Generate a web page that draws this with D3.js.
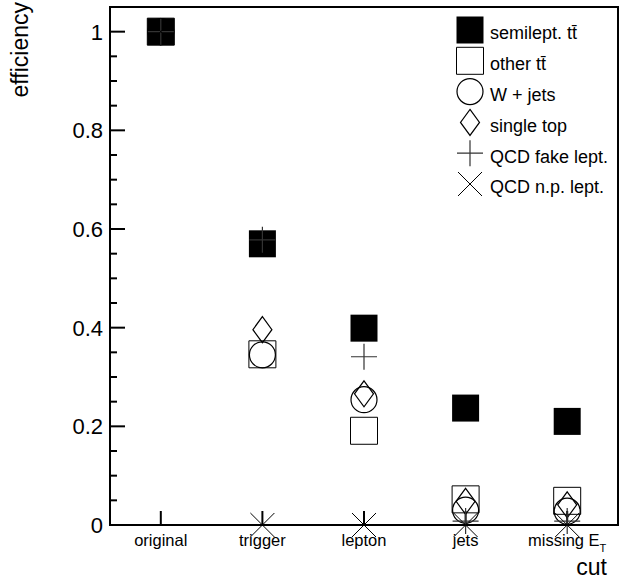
<!DOCTYPE html>
<html>
<head>
<meta charset="utf-8">
<script src="https://cdn.jsdelivr.net/npm/d3@7"></script>
<style>
  html, body { margin: 0; padding: 0; background: #fff; }
  svg { display: block; font-family: "Liberation Sans", Arial, sans-serif; }
</style>
</head>
<body>
<svg id="chart" width="621" height="579"></svg>
<script>
// Selection stages
const categories = ["original", "trigger", "lepton", "jets", "missing E_T"];

// Efficiency after each cut, per sample
const semileptTT = [1.0, 0.570, 0.399, 0.237, 0.210];
const otherTT    = [1.0, 0.346, 0.191, 0.052, 0.049];
const wJets      = [1.0, 0.345, 0.254, 0.030, 0.028];
const singleTop  = [1.0, 0.396, 0.266, 0.048, 0.041];
const qcdFake    = [1.0, 0.578, 0.341, 0.008, 0.008];
const qcdNP      = [1.0, 0.0, 0.0, 0.0, 0.0];

const yMajorTicks = [0, 0.2, 0.4, 0.6, 0.8, 1];
const yTickLabels = ["0", "0.2", "0.4", "0.6", "0.8", "1"];

const series = [
  { name: "semilept. t", bar: true,  values: semileptTT, marker: "fullSquare" },
  { name: "other t",     bar: true,  values: otherTT,    marker: "openSquare" },
  { name: "W + jets",    bar: false, values: wJets,      marker: "openCircle" },
  { name: "single top",  bar: false, values: singleTop,  marker: "openDiamond" },
  { name: "QCD fake lept.", bar: false, values: qcdFake, marker: "plus" },
  { name: "QCD n.p. lept.", bar: false, values: qcdNP,   marker: "cross" }
];

const svg = d3.select("#chart");
const frame = { left: 110, right: 618, top: 7, bottom: 525 };

const x = d3.scaleBand().domain(categories).range([frame.left, frame.right]).padding(0);
const y = d3.scaleLinear().domain([0, 1.05]).range([frame.bottom, frame.top]);

// Marker shapes (paths centered at 0,0)
const markerPath = {
  fullSquare:  () => "M-13.5,-13.5H13.5V13.5H-13.5Z",
  openSquare:  () => "M-13.5,-13.5H13.5V13.5H-13.5Z",
  openCircle:  () => d3.symbol(d3.symbolCircle, Math.PI * 13 * 13)(),
  openDiamond: () => "M0,-13L9.5,0L0,13L-9.5,0Z",
  plus:        () => "M-13,0H13M0,-13V13",
  cross:       () => "M-12,-12L12,12M12,-12L-12,12"
};
const markerStyle = {
  fullSquare:  { fill: "#000", stroke: "none", sw: 0 },
  openSquare:  { fill: "none", stroke: "#000", sw: 1 },
  openCircle:  { fill: "none", stroke: "#000", sw: 1.2 },
  openDiamond: { fill: "none", stroke: "#000", sw: 1.2 },
  plus:        { fill: "none", stroke: "#333", sw: 1.2 },
  cross:       { fill: "none", stroke: "#000", sw: 1 }
};

function drawMarker(g, type, cx, cy) {
  const st = markerStyle[type];
  g.append("path")
    .attr("d", markerPath[type]())
    .attr("transform", `translate(${cx},${cy})`)
    .attr("fill", st.fill)
    .attr("stroke", st.stroke)
    .attr("stroke-width", st.sw);
}

// Frame
svg.append("rect")
  .attr("x", frame.left).attr("y", frame.top)
  .attr("width", frame.right - frame.left).attr("height", frame.bottom - frame.top)
  .attr("fill", "none").attr("stroke", "#000").attr("stroke-width", 2);

// Y axis ticks (inside the frame)
const yAxis = svg.append("g");
const minorTicks = d3.range(0, 21).map(i => i * 0.05).filter(v => !yMajorTicks.some(m => Math.abs(m - v) < 1e-9));
yAxis.selectAll("line.minor").data(minorTicks).enter().append("line")
  .attr("x1", frame.left).attr("x2", frame.left + 7)
  .attr("y1", d => y(d)).attr("y2", d => y(d))
  .attr("stroke", "#000").attr("stroke-width", 2);
yAxis.selectAll("line.major").data(yMajorTicks).enter().append("line")
  .attr("x1", frame.left).attr("x2", frame.left + 15)
  .attr("y1", d => y(d)).attr("y2", d => y(d))
  .attr("stroke", "#000").attr("stroke-width", 2);
yAxis.selectAll("text").data(yMajorTicks).enter().append("text")
  .attr("x", frame.left - 7)
  .attr("y", d => y(d))
  .attr("dy", "0.36em")
  .attr("text-anchor", "end")
  .attr("font-size", 22)
  .text((d, i) => yTickLabels[i]);

// X axis ticks and labels
const xAxis = svg.append("g");
xAxis.selectAll("line").data(categories).enter().append("line")
  .attr("x1", d => x(d) + x.bandwidth() / 2).attr("x2", d => x(d) + x.bandwidth() / 2)
  .attr("y1", frame.bottom).attr("y2", frame.bottom - 14)
  .attr("stroke", "#000").attr("stroke-width", 2);
categories.forEach(c => {
  const t = xAxis.append("text")
    .attr("x", x(c) + x.bandwidth() / 2)
    .attr("y", 546)
    .attr("text-anchor", "middle")
    .attr("font-size", 16.5);
  if (c === "missing E_T") {
    t.append("tspan").text("missing E");
    t.append("tspan").attr("font-size", 11).attr("dy", 6).text("T");
  } else {
    t.text(c);
  }
});

// Axis titles
svg.append("text")
  .attr("x", 607).attr("y", 575)
  .attr("text-anchor", "end")
  .attr("font-size", 23)
  .text("cut");
svg.append("text")
  .attr("transform", "translate(28,2) rotate(-90)")
  .attr("text-anchor", "end")
  .attr("font-size", 23)
  .text("efficiency");

// Data markers
const plot = svg.append("g");
series.forEach(s => {
  s.values.forEach((v, i) => {
    drawMarker(plot, s.marker, x(categories[i]) + x.bandwidth() / 2, y(v));
  });
});

// Legend
const legend = svg.append("g");
series.forEach((s, i) => {
  const cy = 30 + i * 30.8;
  drawMarker(legend, s.marker, 470, cy);
  const t = legend.append("text")
    .attr("x", 490).attr("y", cy + 3)
    .attr("dy", "0.35em")
    .attr("font-size", 18)
    .text(s.name);
  if (s.bar) t.append("tspan").text("t\u0304");
});
</script>
</body>
</html>
